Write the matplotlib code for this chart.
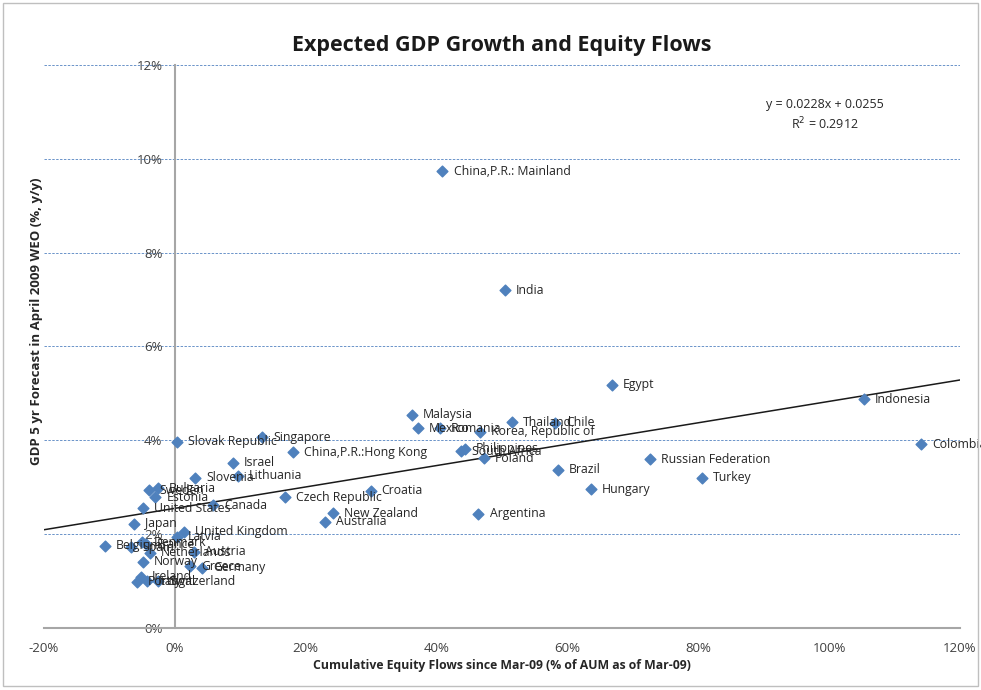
import matplotlib
matplotlib.use('Agg')
import matplotlib.pyplot as plt
from matplotlib.patches import Rectangle
from matplotlib.ticker import FuncFormatter

plt.rcParams['font.family'] = ['Open Sans', 'DejaVu Sans']

# cumulative equity flows (% of AUM) and 5yr GDP forecast (%)
countries = [
    'China,P.R.: Mainland', 'India', 'Egypt', 'Indonesia', 'Colombia',
    'Malaysia', 'Mexico', 'Romania', 'Korea, Republic of', 'Thailand', 'Chile',
    'Philippines', 'South Africa', 'Poland', 'Brazil', 'Hungary',
    'Russian Federation', 'Turkey', 'Croatia', 'Czech Republic', 'New Zealand',
    'Australia', 'Argentina', 'China,P.R.:Hong Kong', 'Singapore',
    'Slovak Republic', 'Israel', 'Slovenia', 'Lithuania', 'Sweden', 'Bulgaria',
    'Estonia', 'United States', 'Canada', 'Japan', 'United Kingdom', 'Latvia',
    'Belgium', 'Denmark', 'Spain', 'France', 'Netherlands', 'Austria', 'Norway',
    'Greece', 'Germany', 'Ireland', 'Portugal', 'Italy', 'Switzerland',
]
flows = [
    40.9, 50.4, 66.8, 105.3, 114.1,
    36.2, 37.1, 40.5, 46.6, 51.5, 58.1,
    44.3, 43.7, 47.2, 58.5, 63.6,
    72.6, 80.5, 29.9, 16.8, 24.2,
    22.9, 46.4, 18.0, 13.3,
    0.3, 8.9, 3.1, 9.6, -4.0, -2.6,
    -3.0, -4.9, 5.8, -6.2, 1.4, 0.3,
    -10.7, -5.0, -6.7, -4.4, -3.8, 2.9, -4.9,
    2.3, 4.1, -5.2, -5.8, -4.3, -2.6,
]
gdp = [
    9.74, 7.20, 5.18, 4.88, 3.92,
    4.54, 4.26, 4.26, 4.18, 4.39, 4.37,
    3.82, 3.77, 3.62, 3.37, 2.96,
    3.60, 3.20, 2.92, 2.79, 2.45,
    2.26, 2.43, 3.75, 4.07,
    3.97, 3.52, 3.20, 3.24, 2.94, 2.98,
    2.79, 2.55, 2.62, 2.22, 2.05, 1.94,
    1.75, 1.83, 1.72, 1.78, 1.60, 1.62, 1.41,
    1.32, 1.28, 1.09, 0.98, 1.00, 1.00,
]
slope = 0.0228
intercept = 0.0255

fig = plt.figure(figsize=(9.81, 6.90), dpi=100)
fig.patches.append(Rectangle((0.003, 0.006), 0.994, 0.99, transform=fig.transFigure,
                             fill=False, edgecolor='#bfbfbf', linewidth=1))
ax = fig.add_axes([0.0449, 0.0899, 0.9337, 0.8159])

xs = [v / 100 for v in flows]
ys = [v / 100 for v in gdp]

for yv in [0.02, 0.04, 0.06, 0.08, 0.10, 0.12]:
    ax.axhline(yv, color='#6a93c9', linestyle=(0, (2.5, 1.5)), linewidth=0.7, zorder=0)

ax.scatter(xs, ys, marker='D', s=30, color='#4f81bd', zorder=3)
for name, x, y in zip(countries, xs, ys):
    ax.annotate(name, (x, y), xytext=(8, 0), textcoords='offset points',
                va='center', ha='left', fontsize=8.8, color='#262626', zorder=4)

lx = [-0.2, 1.2]
ax.plot(lx, [slope * v + intercept for v in lx], color='#1a1a1a', linewidth=1.1, zorder=2)

ax.text(0.993, 0.1093, 'y = 0.0228x + 0.0255\nR$^2$ = 0.2912', ha='center', va='center',
        fontsize=9, color='#262626', linespacing=1.3)

ax.set_xlim(-0.2, 1.2)
ax.set_ylim(0, 0.12)
ax.set_xticks([-0.2, 0, 0.2, 0.4, 0.6, 0.8, 1.0, 1.2])
ax.set_yticks([0, 0.02, 0.04, 0.06, 0.08, 0.10, 0.12])
pct = FuncFormatter(lambda v, p: '%d%%' % round(v * 100))
ax.xaxis.set_major_formatter(pct)
ax.yaxis.set_major_formatter(pct)

ax.spines['top'].set_visible(False)
ax.spines['right'].set_visible(False)
ax.spines['left'].set_position(('data', 0))
ax.spines['left'].set_color('#a6a6a6')
ax.spines['left'].set_linewidth(1.5)
ax.spines['bottom'].set_color('#a6a6a6')
ax.spines['bottom'].set_linewidth(1.5)
ax.tick_params(length=0, labelsize=9.5, colors='#404040')
ax.tick_params(axis='x', pad=10)
ax.tick_params(axis='y', pad=9)

fig.text(0.5117, 0.934, 'Expected GDP Growth and Equity Flows', ha='center', va='center',
         fontsize=15.5, fontweight='bold', color='#1a1a1a')
fig.text(0.5117, 0.035, 'Cumulative Equity Flows since Mar-09 (% of AUM as of Mar-09)',
         ha='center', va='center', fontsize=8.8, fontweight='bold', color='#262626')
fig.text(0.037, 0.535, 'GDP 5 yr Forecast in April 2009 WEO (%, y/y)', rotation=90,
         ha='center', va='center', fontsize=9.5, fontweight='bold', color='#262626')

fig.savefig('out.png', dpi=100)
